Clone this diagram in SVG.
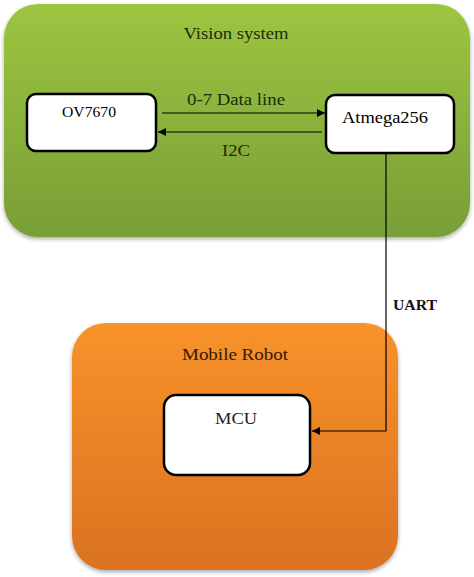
<svg xmlns="http://www.w3.org/2000/svg" width="474" height="577" viewBox="0 0 474 577">
<defs>
<linearGradient id="gGreen" x1="0" y1="0" x2="0" y2="1">
<stop offset="0" stop-color="#9dc540"/>
<stop offset="1" stop-color="#789e37"/>
</linearGradient>
<linearGradient id="gOrange" x1="0" y1="0" x2="0" y2="1">
<stop offset="0" stop-color="#f8922a"/>
<stop offset="1" stop-color="#da7222"/>
</linearGradient>
<filter id="sh" x="-10%" y="-10%" width="120%" height="125%">
<feGaussianBlur in="SourceAlpha" stdDeviation="2"/>
<feOffset dx="0" dy="2" result="b"/>
<feComponentTransfer><feFuncA type="linear" slope="0.35"/></feComponentTransfer>
<feMerge><feMergeNode/><feMergeNode in="SourceGraphic"/></feMerge>
</filter>
<marker id="arr" viewBox="0 0 10 10" refX="10" refY="5" markerWidth="8" markerHeight="8" markerUnits="userSpaceOnUse" orient="auto">
<path d="M0,0 L10,5 L0,10 z" fill="#000"/>
</marker>
<style>
.t{font-family:"Liberation Serif","Times New Roman",serif;text-anchor:middle;}
.node{fill:#fff;stroke:#000;stroke-width:2.5;}
.edge{fill:none;stroke:#000;stroke-width:1.2;}
</style>
</defs>
<rect width="474" height="577" fill="#fff"/>
<g id="vision">
<rect x="4" y="4" width="466" height="233" rx="34" fill="url(#gGreen)" filter="url(#sh)"/>
<text class="t" x="236" y="39" font-size="17" fill="#1a2d0c" textLength="105" lengthAdjust="spacingAndGlyphs">Vision system</text>
</g>
<g id="robot">
<rect x="72" y="323" width="326" height="247" rx="34" fill="url(#gOrange)" filter="url(#sh)"/>
<text class="t" x="235" y="360" font-size="16" fill="#33180a" textLength="106" lengthAdjust="spacingAndGlyphs">Mobile Robot</text>
</g>
<g id="ov7670">
<rect class="node" x="27" y="94" width="129" height="57" rx="9"/>
<text class="t" x="89" y="117" font-size="14" fill="#000" textLength="54" lengthAdjust="spacingAndGlyphs">OV7670</text>
</g>
<g id="atmega">
<rect class="node" x="326" y="95" width="128" height="58" rx="9"/>
<text class="t" x="385" y="123" font-size="16" fill="#000" textLength="86" lengthAdjust="spacingAndGlyphs">Atmega256</text>
</g>
<g id="mcu">
<rect class="node" x="164" y="395" width="146" height="80" rx="12"/>
<text class="t" x="236" y="424" font-size="16" fill="#222" textLength="42" lengthAdjust="spacingAndGlyphs">MCU</text>
</g>
<g id="connectors">
<line class="edge" x1="162" y1="113" x2="325" y2="113" marker-end="url(#arr)"/>
<line class="edge" x1="322" y1="132" x2="158" y2="132" marker-end="url(#arr)"/>
<polyline class="edge" points="386,153 386,431 312,431" marker-end="url(#arr)"/>
<text class="t" x="236" y="105" font-size="16" fill="#1a2d0c" textLength="98" lengthAdjust="spacingAndGlyphs">0-7 Data line</text>
<text class="t" x="236" y="156" font-size="16" fill="#1a2d0c" textLength="28" lengthAdjust="spacingAndGlyphs">I2C</text>
<text class="t" x="415" y="310" font-size="14" font-weight="bold" fill="#111" textLength="44" lengthAdjust="spacingAndGlyphs">UART</text>
</g>
</svg>
